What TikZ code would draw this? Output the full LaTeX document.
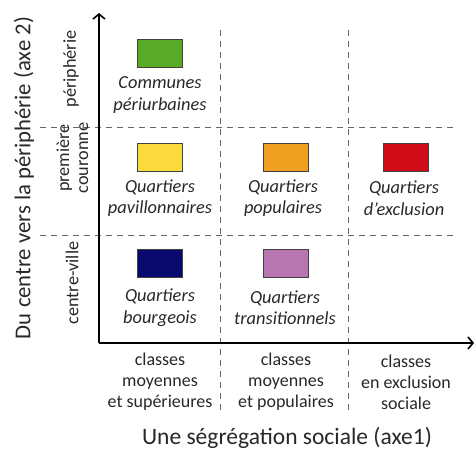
\documentclass[tikz,border=0pt]{standalone}
\usepackage{fontspec}
\setmainfont{Carlito}
\usepackage{tikz}
\usetikzlibrary{arrows.meta}

\definecolor{peri}{RGB}{88,170,40}
\definecolor{pavil}{RGB}{250,218,60}
\definecolor{popul}{RGB}{240,160,32}
\definecolor{exclu}{RGB}{208,12,24}
\definecolor{bourg}{RGB}{10,10,110}
\definecolor{trans}{RGB}{184,118,176}
\definecolor{txt}{RGB}{40,40,40}

\tikzset{
  quartier/.style={draw=black!75, line width=0.8pt, minimum width=45pt, minimum height=28pt, inner sep=0pt},
  legende/.style={font=\fontsize{18.4}{21.5}\selectfont\itshape, align=center, text=txt, inner sep=0pt},
  classe/.style={font=\fontsize{18}{21}\selectfont, align=center, text=txt, inner sep=0pt},
  zone/.style={font=\fontsize{18.2}{19}\selectfont, align=center, text=txt, rotate=90, inner sep=0pt},
  axe/.style={line width=1.6pt, -{Straight Barb[length=5pt,width=12pt,line width=1.6pt]}},
  grille/.style={black!60, line width=0.8pt, dash pattern=on 6pt off 5pt}
}

\begin{document}
\begin{tikzpicture}[x=1pt, y=-1pt]
    \useasboundingbox (0, 0) rectangle (476, 461);

    % grille
    \draw [grille] (40, 127) -- (456, 127);
    \draw [grille] (40, 235) -- (456, 235);
    \draw [grille] (220, 30) -- (220, 415);
    \draw [grille] (348, 30) -- (348, 415);

    % axes
    \coordinate (O) at (99, 343);
    \coordinate (haut) at (99, 13);
    \coordinate (droite) at (474, 343);
    \draw [axe] (O) -- (haut);
    \draw [axe] (O) -- (droite);

    % quartiers
    \node [quartier, fill=peri] (periurb) at (160, 53) {};
    \node [quartier, fill=pavil] (pavil) at (160, 157) {};
    \node [quartier, fill=popul] (popul) at (285.5, 157) {};
    \node [quartier, fill=exclu] (exclu) at (405.5, 157) {};
    \node [quartier, fill=bourg] (bourg) at (160, 263) {};
    \node [quartier, fill=trans] (trans) at (285.5, 263) {};

    \node [legende] (lperiurb) at (160, 95) {Communes\\périurbaines};
    \node [legende] (lpavil) at (160, 198) {Quartiers\\pavillonnaires};
    \node [legende] (lpopul) at (283, 198) {Quartiers\\populaires};
    \node [legende] (lexclu) at (404, 198) {Quartiers\\d'exclusion};
    \node [legende] (lbourg) at (160, 307.5) {Quartiers\\bourgeois};
    \node [legende] (ltrans) at (285, 307.5) {Quartiers\\transitionnels};

    % zones
    \node [zone] (zperi) at (71, 69) {périphérie};
    \node [zone] (zcour) at (72.5, 158) {première\\couronne};
    \node [zone] (zcentre) at (72, 283) {centre-ville};

    % classes
    \node [classe] (csup) at (160, 382) {classes\\moyennes\\et supérieures};
    \node [classe] (cpop) at (286, 382) {classes\\moyennes\\et populaires};
    \node [classe] (cexcl) at (406, 382) {classes\\en exclusion\\sociale};

    \node [text=txt, font=\fontsize{23.5}{27}\selectfont] (axe1) at (287, 438) {Une ségrégation sociale (axe1)};
    \node [text=txt, font=\fontsize{22.7}{26}\selectfont, rotate=90] (axe2) at (24, 178) {Du centre vers la périphérie (axe 2)};
  \end{tikzpicture}
\end{document}
